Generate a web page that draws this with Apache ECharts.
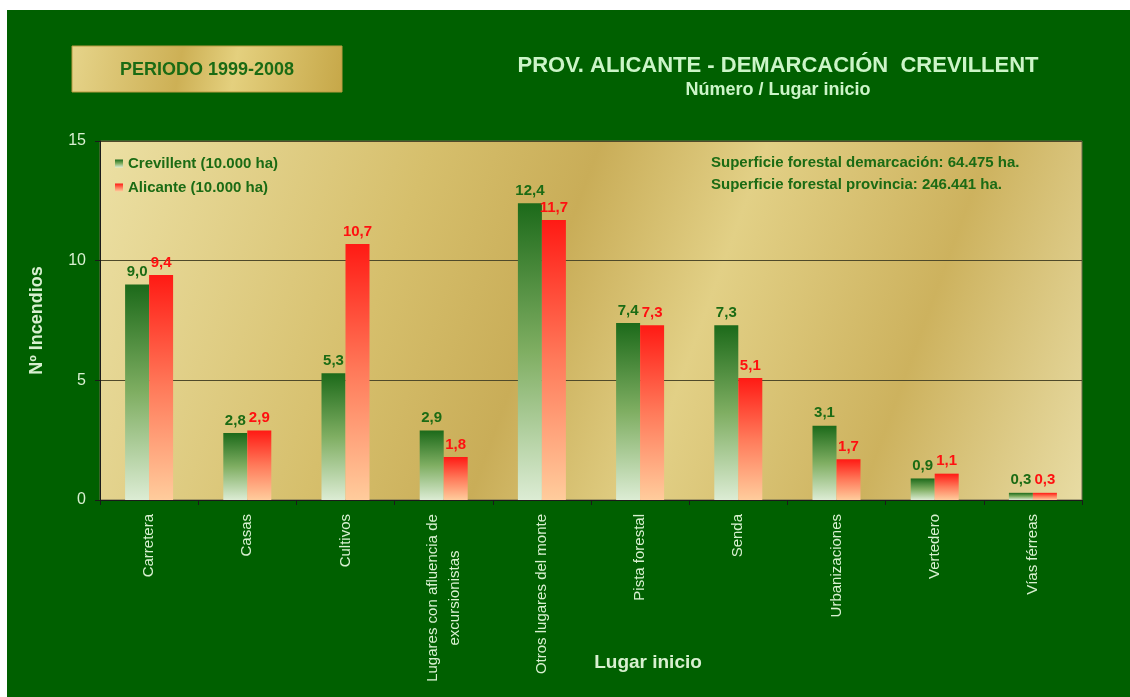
<!DOCTYPE html>
<html>
<head>
<meta charset="utf-8">
<script src="https://cdn.jsdelivr.net/npm/echarts@6/dist/echarts.min.js"></script>
<style>
  html, body { margin: 0; padding: 0; background: #ffffff; }
  #bg { position: absolute; left: 7px; top: 10px; width: 1123px; height: 687px; background: #006000; }
  #main { position: absolute; left: 0; top: 0; width: 1130px; height: 697px; }
</style>
</head>
<body>
<div id="bg"></div>
<div id="main"></div>
<script>
var categories = ['Carretera', 'Casas', 'Cultivos', 'Lugares con afluencia de\nexcursionistas',
  'Otros lugares del monte', 'Pista forestal', 'Senda', 'Urbanizaciones', 'Vertedero', 'Vías férreas']
var crevillent = [9.0, 2.8, 5.3, 2.9, 12.4, 7.4, 7.3, 3.1, 0.9, 0.3]
var alicante = [9.4, 2.9, 10.7, 1.8, 11.7, 7.3, 5.1, 1.7, 1.1, 0.3]
var yTicks = { min: 0, max: 15, interval: 5 }

var sans = '"Liberation Sans", Arial, sans-serif'
var darkGreen = '#1b6b14'
var lightText = '#d8f0d0'

var fmt = function (p) { return p.value.toFixed(1).replace('.', ',') }

var myChart = echarts.init(document.getElementById('main'))
var option = {
  backgroundColor: 'transparent',
  animation: false,
  title: [
    {
      text: 'PROV. ALICANTE - DEMARCACIÓN  CREVILLENT',
      left: 773, top: 50, textAlign: 'center',
      textStyle: { color: '#ccf5c8', fontFamily: sans, fontWeight: 'bold', fontSize: 22 }
    },
    {
      text: 'Número / Lugar inicio',
      left: 773, top: 76, textAlign: 'center',
      textStyle: { color: '#ccf5c8', fontFamily: sans, fontWeight: 'bold', fontSize: 18 }
    }
  ],
  graphic: [
    {
      type: 'rect',
      shape: { x: 72, y: 46, width: 270, height: 46 },
      style: {
        fill: new echarts.graphic.LinearGradient(0, 0, 1, 1, [
          { offset: 0, color: '#e6d48a' },
          { offset: 0.4, color: '#cdb055' },
          { offset: 0.6, color: '#e4d07e' },
          { offset: 1, color: '#c6a748' }
        ]),
        stroke: '#b89a40', lineWidth: 1
      }
    },
    {
      type: 'text',
      x: 207, y: 70,
      style: {
        text: 'PERIODO 1999-2008', fill: darkGreen,
        font: 'bold 18px ' + sans, align: 'center', verticalAlign: 'middle'
      }
    },
    {
      type: 'text',
      x: 711, y: 152,
      style: {
        text: 'Superficie forestal demarcación: 64.475 ha.\nSuperficie forestal provincia: 246.441 ha.',
        fill: darkGreen, font: 'bold 15px ' + sans, lineHeight: 22
      }
    },
    {
      type: 'text',
      x: 648, y: 663,
      style: {
        text: 'Lugar inicio', fill: lightText,
        font: 'bold 19px ' + sans, align: 'center', verticalAlign: 'middle'
      }
    }
  ],
  legend: {
    left: 110, top: 151, orient: 'vertical', itemWidth: 8, itemHeight: 8, itemGap: 9,
    icon: 'rect',
    textStyle: { color: darkGreen, fontFamily: sans, fontWeight: 'bold', fontSize: 15 },
    data: ['Crevillent (10.000 ha)', 'Alicante (10.000 ha)']
  },
  grid: {
    left: 100, top: 141, right: 48, bottom: 197,
    containLabel: false,
    outerBoundsMode: 'none',
    show: true,
    borderColor: '#6e6a50', borderWidth: 1,
    backgroundColor: new echarts.graphic.LinearGradient(0, 0, 1, 1, [
      { offset: 0, color: '#ece0a4' },
      { offset: 0.3, color: '#d6bf6c' },
      { offset: 0.45, color: '#c9ad58' },
      { offset: 0.6, color: '#e2d086' },
      { offset: 0.8, color: '#cdb25e' },
      { offset: 1, color: '#e8dca4' }
    ])
  },
  xAxis: {
    type: 'category',
    data: categories,
    axisLine: { lineStyle: { color: '#1a1a1a' } },
    axisTick: { show: true, length: 5, lineStyle: { color: '#1a1a1a' } },
    axisLabel: {
      rotate: 90, margin: 14, interval: 0,
      color: lightText, fontFamily: sans, fontSize: 15,
      formatter: function (v) {
        if (v.indexOf('\n') >= 0) {
          return v.split('\n').map(function (s) { return '{c|' + s + '}' }).join('\n')
        }
        return v
      },
      rich: { c: { width: 168, align: 'center', color: lightText, fontFamily: sans, fontSize: 15, lineHeight: 22 } }
    }
  },
  yAxis: {
    type: 'value',
    min: yTicks.min, max: yTicks.max, interval: yTicks.interval,
    name: 'Nº Incendios',
    nameLocation: 'middle',
    nameRotate: 90,
    nameGap: 54,
    nameTextStyle: { color: lightText, fontFamily: sans, fontWeight: 'bold', fontSize: 18 },
    axisLine: { show: true, lineStyle: { color: '#1a1a1a' } },
    axisTick: { show: true, length: 5, lineStyle: { color: '#1a1a1a' } },
    axisLabel: { color: lightText, fontFamily: sans, fontSize: 16, margin: 14 },
    splitLine: { lineStyle: { color: '#4f4a2a', width: 1 } }
  },
  series: [
    {
      name: 'Crevillent (10.000 ha)',
      type: 'bar',
      data: crevillent,
      barWidth: 24,
      barGap: '0%',
      itemStyle: {
        color: new echarts.graphic.LinearGradient(0, 0, 0, 1, [
          { offset: 0, color: '#1c6a1a' },
          { offset: 0.5, color: '#7fae62' },
          { offset: 1, color: '#dcecd4' }
        ])
      },
      label: {
        show: true, position: 'top', distance: 5, formatter: fmt,
        color: darkGreen, fontFamily: sans, fontWeight: 'bold', fontSize: 15
      }
    },
    {
      name: 'Alicante (10.000 ha)',
      type: 'bar',
      data: alicante,
      barWidth: 24,
      itemStyle: {
        color: new echarts.graphic.LinearGradient(0, 0, 0, 1, [
          { offset: 0, color: '#ff1a14' },
          { offset: 0.5, color: '#ff7a5a' },
          { offset: 1, color: '#ffcc9c' }
        ])
      },
      label: {
        show: true, position: 'top', distance: 5, formatter: fmt,
        color: '#ff1010', fontFamily: sans, fontWeight: 'bold', fontSize: 15
      }
    }
  ]
}
myChart.setOption(option)
</script>
</body>
</html>
